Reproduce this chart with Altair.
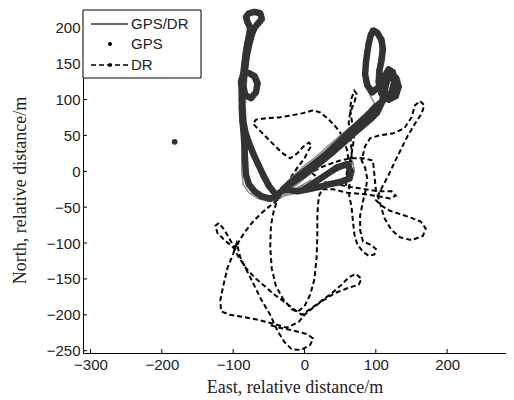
import altair as alt
import pandas as pd

# ---------------- data ----------------
x_ticks = [-300, -200, -100, 0, 100, 200]
y_ticks = [-250, -200, -150, -100, -50, 0, 50, 100, 150, 200]

# GPS fixes (dense dots forming the thick dark track)
gps_track = [
    (-40, -33), (-50, -20), (-58, -5), (-65, 10), (-72, 25), (-78, 40), (-83, 55), (-86, 70),
    (-87, 85), (-88, 100), (-88, 112), (-89, 125), (-86, 135), (-78, 137), (-70, 132), (-66, 122),
    (-68, 110), (-75, 102), (-83, 106), (-86, 120), (-86, 135), (-84, 150), (-82, 165), (-80, 178),
    (-77, 190), (-76, 200), (-80, 208), (-82, 215), (-78, 220), (-70, 222), (-62, 220), (-60, 212),
    (-65, 206), (-70, 200), (-74, 190), (-78, 175), (-81, 160), (-83, 145), (-85, 130), (-87, 110),
    (-88, 90), (-87, 70), (-85, 50), (-84, 30), (-83, 10), (-82, -5), (-78, -18), (-70, -28),
    (-60, -35), (-48, -38), (-38, -35),
    (-35, -30), (-20, -18), (-5, -8), (10, 3), (25, 15), (40, 27), (55, 40), (68, 52), (80, 62),
    (92, 72), (102, 82), (108, 95), (112, 110), (115, 125), (122, 135), (128, 130), (132, 118),
    (128, 105), (118, 100), (108, 108), (104, 125), (105, 140), (108, 155), (110, 170), (108, 183),
    (102, 193), (97, 196), (93, 190), (90, 178), (88, 165), (86, 150), (85, 135), (88, 120),
    (95, 110), (105, 118), (112, 132), (118, 142), (124, 138), (126, 125), (122, 110), (112, 100),
    (100, 90), (88, 78), (75, 66), (60, 52), (45, 38), (30, 24), (15, 12), (0, 0), (-15, -12),
    (-30, -25),
    (-10, -28), (5, -25), (20, -22), (35, -18), (50, -15), (63, -10), (65, 0), (60, 10), (45, 5),
    (30, -5), (15, -15), (0, -25),
]
gps_outlier = [(-182, 41)]

# Integrated GPS/DR solution (thin grey line)
gpsdr_track = [
    (10, -12), (-5, -20), (-20, -28), (-35, -38), (-50, -42), (-65, -38), (-78, -30), (-86, -18),
    (-88, 0), (-88, 20), (-86, 40), (-88, 60), (-90, 80), (-90, 100), (-91, 120), (-89, 134),
    (-80, 140), (-68, 136), (-62, 124), (-66, 110), (-76, 104), (-85, 108), (-88, 125), (-88, 145),
    (-86, 165), (-83, 182), (-80, 198), (-81, 210), (-80, 219), (-72, 225), (-62, 224), (-57, 216),
    (-62, 207), (-70, 198), (-75, 185), (-78, 168), (-80, 150), (-81, 130), (-82, 110), (-83, 90),
    (-82, 70), (-80, 52), (-75, 38), (-68, 22), (-60, 5), (-52, -12), (-42, -28), (-30, -32),
    (-15, -22), (0, -10), (15, 2), (30, 14), (45, 28), (58, 42), (70, 54), (84, 64), (96, 74),
    (106, 86), (112, 100), (116, 115), (120, 128), (126, 138), (133, 130), (135, 116), (130, 102),
    (118, 96), (106, 104), (101, 122), (102, 140), (105, 158), (106, 174), (104, 186), (100, 198),
    (93, 199), (90, 190), (87, 175), (85, 160), (83, 140), (84, 122), (92, 106), (98, 95),
    (90, 84), (78, 72), (62, 60), (48, 48), (33, 35), (18, 22), (3, 10), (-12, -3), (-28, -18),
    (-40, -32), (-25, -28), (-5, -22), (15, -14), (35, -5), (55, 5), (68, 12), (70, 0), (66, -12),
    (50, -18), (30, -22), (10, -26), (-10, -30), (-30, -35),
]

# Dead reckoning only (dashed)
dr_track = [
    (-36, -38), (-30, -25), (-20, -10), (-10, 5), (0, 18), (5, 28), (10, 36), (6, 40), (-2, 34),
    (-10, 25), (-20, 18), (-32, 26), (-48, 42), (-62, 56), (-72, 66), (-68, 72), (-52, 74),
    (-35, 75), (-18, 78), (-2, 81), (12, 85), (22, 82), (32, 74), (42, 64), (50, 54), (56, 42),
    (60, 28), (62, 14), (60, 0), (57, -12), (58, -20), (60, -5), (64, 15), (68, 35), (70, 55),
    (66, 72), (64, 88), (66, 102), (70, 112), (73, 108), (70, 96), (64, 82), (62, 68), (64, 50),
    (66, 30), (66, 10), (64, -10), (62, -30), (66, -50), (68, -70), (70, -88), (74, -102),
    (82, -112), (90, -118), (98, -116), (100, -108), (92, -102), (82, -98), (78, -82), (78, -62),
    (82, -42), (86, -25), (88, -10), (85, 5), (80, 15), (85, 35), (92, 46), (105, 50), (125, 53),
    (140, 60), (150, 75), (155, 92), (162, 98), (168, 92), (164, 80), (154, 65), (144, 48),
    (135, 30), (126, 12), (118, -5), (110, -20), (104, -32), (100, -40), (108, -48), (120, -55),
    (135, -60), (150, -65), (163, -70), (170, -80), (166, -90), (150, -96), (134, -92),
    (122, -82), (112, -65), (106, -45), (100, -25), (98, -5), (96, 15), (82, 18), (65, 18),
    (50, 15), (35, 10), (22, 5), (10, -2), (25, -15), (45, -18), (65, -22), (85, -25),
    (105, -28), (122, -28), (128, -34), (120, -38), (105, -35), (85, -32), (60, -30), (40, -25),
    (25, -25), (20, -35), (18, -60), (18, -90), (17, -120), (14, -150), (8, -172), (0, -188),
    (-10, -196), (-18, -192), (-30, -178), (-40, -160), (-46, -135), (-48, -105), (-47, -75),
    (-43, -55), (-38, -40), (-48, -48), (-60, -58), (-72, -70), (-84, -85), (-92, -98),
    (-97, -108), (-104, -96), (-112, -82), (-120, -72), (-125, -76), (-122, -86), (-112, -96),
    (-100, -106), (-92, -120), (-82, -135), (-70, -148), (-56, -160), (-42, -172), (-28, -182),
    (-15, -192), (-4, -200), (8, -192), (22, -182), (38, -170), (52, -158), (62, -148),
    (72, -143), (80, -150), (76, -158), (60, -163), (42, -170), (26, -180), (12, -190),
    (0, -200), (-8, -210), (-25, -218), (-45, -212), (-65, -207), (-85, -203), (-105, -200),
    (-117, -195), (-118, -180), (-114, -160), (-108, -135), (-100, -115), (-95, -100),
    (-90, -120), (-80, -140), (-70, -160), (-60, -180), (-48, -200), (-38, -222), (-28, -238),
    (-18, -248), (-5, -249), (8, -242), (12, -233), (4, -227), (-15, -222), (-35, -218),
    (-50, -214),
]

legend_labels = ["GPS/DR", "GPS", "DR"]


def frame(points):
    return pd.DataFrame({"x": [p[0] for p in points],
                         "y": [p[1] for p in points],
                         "i": list(range(len(points)))})


W, H = 423, 343
xscale = alt.Scale(domain=[-310.5, 282.5], nice=False, zero=False)
yscale = alt.Scale(domain=[-253.2, 224.7], nice=False, zero=False)

xaxis = alt.Axis(values=x_ticks, title="East, relative distance/m", grid=False, ticks=False,
                 tickSize=0, labelPadding=4, titlePadding=6)
yaxis = alt.Axis(values=y_ticks, title="North, relative distance/m", grid=False, ticks=False,
                 tickSize=0, labelPadding=3, titlePadding=17, titleY=180)

X = alt.X("x:Q", scale=xscale, axis=xaxis)
Y = alt.Y("y:Q", scale=yscale, axis=yaxis)

dr_layer = alt.Chart(frame(dr_track)).mark_line(
    color="black", strokeWidth=2, strokeDash=[5, 3]
).encode(x=X, y=Y, order="i:Q")

gpsdr_layer = alt.Chart(frame(gpsdr_track)).mark_line(
    color="#8a8a8a", strokeWidth=1.5
).encode(x=X, y=Y, order="i:Q")

gps_trail = alt.Chart(frame(gps_track)).mark_line(
    color="#333333", strokeWidth=6.5, strokeCap="round", strokeJoin="round"
).encode(x=X, y=Y, order="i:Q")

gps_dots = alt.Chart(frame(gps_track + gps_outlier)).mark_circle(
    color="#333333", size=34, opacity=1
).encode(x=X, y=Y)

xt = alt.Chart(pd.DataFrame({"x": x_ticks})).mark_rule(color="black", strokeWidth=1).encode(
    x=X, y=alt.value(H), y2=alt.value(H - 4))
yt = alt.Chart(pd.DataFrame({"y": y_ticks})).mark_rule(color="black", strokeWidth=1).encode(
    y=Y, x=alt.value(0), x2=alt.value(4))

one = pd.DataFrame({"k": [0]})
box = alt.Chart(one).mark_rect(fill="white", stroke="black", strokeWidth=1).encode(
    x=alt.value(0), x2=alt.value(118), y=alt.value(0), y2=alt.value(68))
leg_line1 = alt.Chart(one).mark_rule(color="#333333", strokeWidth=1.4).encode(
    x=alt.value(8), x2=alt.value(45), y=alt.value(14))
leg_dot = alt.Chart(one).mark_circle(color="black", size=16, opacity=1).encode(
    x=alt.value(27), y=alt.value(34))
leg_line3 = alt.Chart(one).mark_rule(color="black", strokeWidth=1.6, strokeDash=[5, 3]).encode(
    x=alt.value(8), x2=alt.value(45), y=alt.value(55))
leg_dot3 = alt.Chart(one).mark_circle(color="black", size=16, opacity=1).encode(
    x=alt.value(27), y=alt.value(55))
leg_text = alt.Chart(pd.DataFrame({"t": legend_labels, "yy": [14, 34, 55]})).mark_text(
    align="left", baseline="middle", font="Liberation Sans", fontSize=15, color="#222222"
).encode(x=alt.value(48), y=alt.Y("yy:Q", scale=None), text="t:N")

chart = alt.layer(
    dr_layer, gpsdr_layer, gps_trail, gps_dots, xt, yt,
    box, leg_line1, leg_dot, leg_line3, leg_dot3, leg_text
).properties(
    width=W, height=H,
    autosize=alt.AutoSizeParams(type="none"),
    padding={"left": 75, "top": 2, "right": 0, "bottom": 45},
    background="white",
).configure_view(strokeWidth=0).configure_axis(
    domainColor="black", domainWidth=1,
    labelFont="Liberation Sans", labelFontSize=15, labelColor="#222222",
    titleFont="Liberation Serif", titleFontSize=18, titleFontWeight="normal", titleColor="#222222",
)

chart.save("out.html", embed_options={"renderer": "svg", "actions": False})
